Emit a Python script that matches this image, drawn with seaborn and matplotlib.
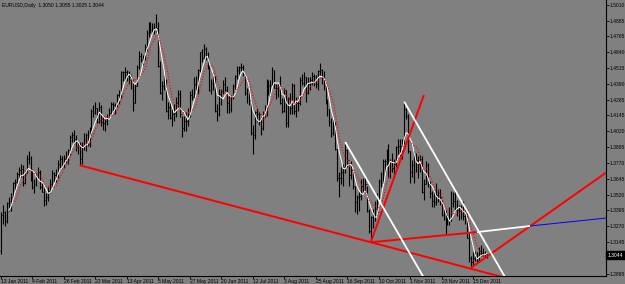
import numpy as np
import pandas as pd
import matplotlib
matplotlib.use("Agg")
import matplotlib.pyplot as plt
import matplotlib.transforms as mtransforms
import seaborn as sns

# ---------------- data (EURUSD daily, 13 Jan 2011 .. 26 Dec 2011) ----------------
symbol_title = "EURUSD,Daily"
first_open = 1.3080

highs = [
    1.3380, 1.3440, 1.3390, 1.3460, 1.3500, 1.3530, 1.3620, 1.3640, 1.3700, 1.3740, 1.3760, 1.3750, 1.3710,
    1.3830, 1.3860, 1.3820, 1.3720, 1.3640, 1.3690, 1.3740, 1.3710, 1.3620, 1.3570, 1.3530, 1.3590, 1.3640, 1.3710, 1.3700, 1.3720, 1.3790, 1.3830, 1.3820, 1.3830,
    1.3860, 1.3880, 1.3990, 1.4010, 1.4030, 1.3990, 1.3950, 1.3930, 1.3930, 1.4000, 1.4000, 1.4030, 1.4050, 1.4190, 1.4220, 1.4250, 1.4200, 1.4250, 1.4220, 1.4130, 1.4120, 1.4150, 1.4200,
    1.4250, 1.4250, 1.4240, 1.4310, 1.4340, 1.4490, 1.4490, 1.4520, 1.4500, 1.4490, 1.4470, 1.4420, 1.4390, 1.4540, 1.4650, 1.4630, 1.4620, 1.4700, 1.4810, 1.4880, 1.4880,
    1.4870, 1.4870, 1.4940, 1.4880, 1.4570, 1.4410, 1.4460, 1.4430, 1.4250, 1.4260, 1.4190, 1.4230, 1.4290, 1.4340, 1.4340, 1.4140, 1.4140, 1.4170, 1.4200, 1.4330, 1.4350, 1.4440,
    1.4450, 1.4510, 1.4640, 1.4660, 1.4700, 1.4680, 1.4640, 1.4540, 1.4430, 1.4480, 1.4450, 1.4230, 1.4350, 1.4350, 1.4420, 1.4440, 1.4370, 1.4300, 1.4300, 1.4390, 1.4460, 1.4530,
    1.4530, 1.4550, 1.4540, 1.4470, 1.4360, 1.4370, 1.4260, 1.4070, 1.4180, 1.4200, 1.4170, 1.4130, 1.4180, 1.4220, 1.4430, 1.4420, 1.4420, 1.4520, 1.4500, 1.4390, 1.4400,
    1.4450, 1.4280, 1.4360, 1.4340, 1.4290, 1.4320, 1.4400, 1.4390, 1.4290, 1.4290, 1.4440, 1.4470, 1.4480, 1.4440, 1.4440, 1.4440, 1.4480, 1.4470, 1.4460, 1.4500, 1.4550, 1.4510, 1.4490,
    1.4400, 1.4270, 1.4190, 1.4120, 1.4110, 1.4090, 1.3880, 1.3700, 1.3740, 1.3760, 1.3920, 1.3880, 1.3770, 1.3780, 1.3720, 1.3590, 1.3520, 1.3540, 1.3640, 1.3650, 1.3650, 1.3590,
    1.3410, 1.3350, 1.3410, 1.3470, 1.3530, 1.3640, 1.3700, 1.3800, 1.3800, 1.3880, 1.3920, 1.3800, 1.3850, 1.3800, 1.3900, 1.3960, 1.3960, 1.3960, 1.4250, 1.4200, 1.4150,
    1.3860, 1.3790, 1.3860, 1.3850, 1.3820, 1.3830, 1.3820, 1.3640, 1.3780, 1.3770, 1.3630, 1.3550, 1.3560, 1.3610, 1.3560, 1.3560, 1.3480, 1.3420, 1.3400, 1.3370, 1.3420, 1.3550,
    1.3540, 1.3550, 1.3480, 1.3440, 1.3440, 1.3470, 1.3420, 1.3380, 1.3220, 1.3040, 1.3070, 1.3080, 1.3070, 1.3110, 1.3120, 1.3100, 1.3080, 1.3055,
]

lows = [
    1.3050, 1.3290, 1.3270, 1.3300, 1.3390, 1.3390, 1.3480, 1.3550, 1.3590, 1.3640, 1.3660, 1.3590, 1.3600,
    1.3690, 1.3760, 1.3630, 1.3560, 1.3530, 1.3590, 1.3640, 1.3560, 1.3540, 1.3430, 1.3440, 1.3470, 1.3530, 1.3580, 1.3620, 1.3620, 1.3650, 1.3720, 1.3730, 1.3730,
    1.3770, 1.3760, 1.3830, 1.3930, 1.3920, 1.3860, 1.3840, 1.3750, 1.3760, 1.3870, 1.3860, 1.3900, 1.3890, 1.3990, 1.4130, 1.4150, 1.4080, 1.4080, 1.4060, 1.4030, 1.4020, 1.4070, 1.4110,
    1.4140, 1.4170, 1.4150, 1.4210, 1.4230, 1.4280, 1.4410, 1.4410, 1.4410, 1.4390, 1.4350, 1.4180, 1.4240, 1.4370, 1.4510, 1.4560, 1.4540, 1.4580, 1.4650, 1.4760, 1.4790,
    1.4780, 1.4780, 1.4800, 1.4520, 1.4310, 1.4260, 1.4340, 1.4170, 1.4110, 1.4110, 1.4060, 1.4100, 1.4130, 1.4200, 1.4130, 1.3970, 1.4020, 1.4020, 1.4060, 1.4130, 1.4260, 1.4260,
    1.4310, 1.4310, 1.4480, 1.4560, 1.4580, 1.4580, 1.4510, 1.4330, 1.4310, 1.4340, 1.4170, 1.4100, 1.4140, 1.4220, 1.4310, 1.4330, 1.4160, 1.4160, 1.4170, 1.4270, 1.4350, 1.4430,
    1.4470, 1.4490, 1.4450, 1.4300, 1.4240, 1.4220, 1.3990, 1.3840, 1.3960, 1.4090, 1.4070, 1.3990, 1.4030, 1.4130, 1.4140, 1.4300, 1.4290, 1.4370, 1.4360, 1.4270, 1.4290,
    1.4230, 1.4160, 1.4170, 1.4050, 1.4050, 1.4150, 1.4150, 1.4150, 1.4130, 1.4180, 1.4220, 1.4380, 1.4370, 1.4250, 1.4310, 1.4340, 1.4380, 1.4370, 1.4360, 1.4340, 1.4460, 1.4390, 1.4340,
    1.4230, 1.4140, 1.4060, 1.3970, 1.3990, 1.3870, 1.3630, 1.3500, 1.3600, 1.3590, 1.3690, 1.3740, 1.3590, 1.3640, 1.3560, 1.3380, 1.3370, 1.3390, 1.3480, 1.3530, 1.3530, 1.3380,
    1.3220, 1.3145, 1.3260, 1.3310, 1.3350, 1.3440, 1.3580, 1.3610, 1.3680, 1.3750, 1.3660, 1.3650, 1.3700, 1.3650, 1.3740, 1.3840, 1.3820, 1.3800, 1.3920, 1.4110, 1.3850,
    1.3610, 1.3660, 1.3610, 1.3700, 1.3650, 1.3700, 1.3530, 1.3480, 1.3600, 1.3580, 1.3490, 1.3420, 1.3420, 1.3440, 1.3460, 1.3440, 1.3350, 1.3320, 1.3210, 1.3280, 1.3280, 1.3310,
    1.3420, 1.3390, 1.3350, 1.3320, 1.3330, 1.3320, 1.3290, 1.3180, 1.2990, 1.2945, 1.2960, 1.3000, 1.2990, 1.2990, 1.3040, 1.3040, 1.3020, 1.3025,
]

closes = [
    1.3360, 1.3385, 1.3310, 1.3450, 1.3470, 1.3500, 1.3610, 1.3620, 1.3680, 1.3710, 1.3720, 1.3610, 1.3690,
    1.3800, 1.3810, 1.3660, 1.3580, 1.3600, 1.3660, 1.3700, 1.3580, 1.3540, 1.3480, 1.3500, 1.3550, 1.3600, 1.3690, 1.3670, 1.3670, 1.3760, 1.3800, 1.3750, 1.3800,
    1.3800, 1.3870, 1.3970, 1.3990, 1.3960, 1.3890, 1.3910, 1.3800, 1.3900, 1.3950, 1.3990, 1.3920, 1.4000, 1.4180, 1.4160, 1.4200, 1.4090, 1.4210, 1.4090, 1.4080, 1.4100, 1.4120, 1.4160,
    1.4230, 1.4220, 1.4220, 1.4300, 1.4300, 1.4480, 1.4480, 1.4480, 1.4450, 1.4440, 1.4430, 1.4240, 1.4370, 1.4520, 1.4610, 1.4580, 1.4600, 1.4680, 1.4790, 1.4820, 1.4810,
    1.4830, 1.4830, 1.4830, 1.4530, 1.4320, 1.4370, 1.4400, 1.4180, 1.4210, 1.4120, 1.4150, 1.4160, 1.4240, 1.4310, 1.4150, 1.4040, 1.4100, 1.4100, 1.4150, 1.4300, 1.4290, 1.4390,
    1.4350, 1.4500, 1.4640, 1.4590, 1.4660, 1.4600, 1.4540, 1.4340, 1.4400, 1.4440, 1.4180, 1.4150, 1.4310, 1.4330, 1.4390, 1.4340, 1.4240, 1.4190, 1.4290, 1.4370, 1.4450, 1.4500,
    1.4520, 1.4520, 1.4470, 1.4320, 1.4340, 1.4260, 1.4000, 1.3990, 1.4170, 1.4150, 1.4150, 1.4040, 1.4160, 1.4200, 1.4390, 1.4370, 1.4380, 1.4500, 1.4360, 1.4360, 1.4390,
    1.4240, 1.4180, 1.4340, 1.4080, 1.4280, 1.4200, 1.4380, 1.4180, 1.4240, 1.4240, 1.4420, 1.4400, 1.4440, 1.4320, 1.4390, 1.4420, 1.4450, 1.4410, 1.4390, 1.4490, 1.4500, 1.4450, 1.4370,
    1.4240, 1.4190, 1.4090, 1.4000, 1.4080, 1.3880, 1.3650, 1.3650, 1.3700, 1.3740, 1.3870, 1.3790, 1.3670, 1.3710, 1.3590, 1.3460, 1.3500, 1.3510, 1.3590, 1.3540, 1.3600, 1.3390,
    1.3230, 1.3340, 1.3350, 1.3410, 1.3380, 1.3630, 1.3610, 1.3780, 1.3780, 1.3870, 1.3700, 1.3780, 1.3730, 1.3760, 1.3890, 1.3900, 1.3900, 1.3900, 1.4190, 1.4140, 1.3860,
    1.3700, 1.3750, 1.3810, 1.3790, 1.3760, 1.3800, 1.3540, 1.3600, 1.3750, 1.3600, 1.3530, 1.3470, 1.3460, 1.3520, 1.3490, 1.3500, 1.3360, 1.3330, 1.3230, 1.3320, 1.3320, 1.3450,
    1.3470, 1.3400, 1.3400, 1.3390, 1.3390, 1.3350, 1.3380, 1.3180, 1.3020, 1.2990, 1.3020, 1.3040, 1.3000, 1.3080, 1.3060, 1.3050, 1.3050, 1.3044,
]

date_tick_labels = ["13 Jan 2011", "4 Feb 2011", "28 Feb 2011", "22 Mar 2011", "13 Apr 2011",
                    "5 May 2011", "27 May 2011", "20 Jun 2011", "12 Jul 2011", "3 Aug 2011",
                    "25 Aug 2011", "16 Sep 2011", "10 Oct 2011", "1 Nov 2011", "23 Nov 2011",
                    "15 Dec 2011"]
bars_per_date_tick = 16

price_ticks = [1.5010, 1.4885, 1.4765, 1.4640, 1.4515, 1.4390, 1.4265, 1.4145, 1.4020,
               1.3895, 1.3770, 1.3645, 1.3520, 1.3395, 1.3270, 1.3145, 1.2895]

# trend lines drawn on the chart: (bar indices, prices)
red_long = ([40, 260], [1.3750, 1.2851])
red_steep = ([188, 215], [1.3145, 1.4302])
red_flat = ([188, 242], [1.3145, 1.3225])
white_short = ([242, 269], [1.3225, 1.3273])
blue_ext = ([269, 308], [1.3273, 1.3336])
red_rise = ([239, 312], [1.2945, 1.3740])
white_chan1 = ([175, 220], [1.3933, 1.2733])
white_chan2 = ([205, 262], [1.4250, 1.2717])

fast_ma_period = 5
slow_ma_period = 8

# ---------------- figure ----------------
bg = "#808080"
sns.set_theme(style="white", rc={"axes.facecolor": bg, "figure.facecolor": bg,
                                 "savefig.facecolor": bg})
plt.rcParams["font.family"] = ["Liberation Sans", "DejaVu Sans"]
FS = 3.6

df = pd.DataFrame({"high": highs, "low": lows, "close": closes})
df["bar"] = np.arange(len(df))
df["open"] = df["close"].shift(1).fillna(first_open)
df["ma_fast"] = df["close"].rolling(fast_ma_period).mean()
df["ma_slow"] = df["close"].rolling(slow_ma_period).mean()

W, H = 625, 284
fig = plt.figure(figsize=(W / 100, H / 100), dpi=100)
ax = fig.add_axes([0, 8 / H, 606 / W, 276 / H])
ax.set_facecolor(bg)

# OHLC bars
ax.vlines(df["bar"], df["low"], df["high"], colors="black", linewidth=0.8, zorder=2)
ax.hlines(df["open"], df["bar"] - 0.45, df["bar"], colors="black", linewidth=0.6, zorder=2)
ax.hlines(df["close"], df["bar"], df["bar"] + 0.45, colors="black", linewidth=0.6, zorder=2)

# moving averages
sns.lineplot(data=df.dropna(subset=["ma_fast"]), x="bar", y="ma_fast", color="white",
             linewidth=0.7, ax=ax, legend=False, zorder=3)
sns.lineplot(data=df.dropna(subset=["ma_slow"]), x="bar", y="ma_slow", color="#ff0000",
             linewidth=0.8, linestyle=(0, (1, 1.6)), ax=ax, legend=False, zorder=3)

# trend lines
for (xs, ys), col, lw in [
    (red_long, "#ff0000", 1.4), (red_steep, "#ff0000", 1.4), (red_flat, "#ff0000", 1.4),
    (red_rise, "#ff0000", 1.4), (white_chan1, "white", 1.3), (white_chan2, "white", 1.3),
    (white_short, "white", 1.3), (blue_ext, "#0000ff", 0.7),
]:
    ax.plot(xs, ys, color=col, linewidth=lw, solid_capstyle="butt", zorder=4)

ax.set_xlim(-0.51, 307.6)
ax.set_ylim(1.2880, 1.5049)
ax.set_xlabel("")
ax.set_ylabel("")

# axes styling
for side in ["left", "top"]:
    ax.spines[side].set_visible(False)
for side in ["right", "bottom"]:
    ax.spines[side].set_visible(True)
    ax.spines[side].set_color("black")
    ax.spines[side].set_linewidth(0.8)

ax.yaxis.tick_right()
ax.set_yticks(price_ticks)
ax.set_yticklabels([f"{p:.4f}" for p in price_ticks])
ax.tick_params(axis="y", which="major", right=True, left=False, labelright=True,
               labelleft=False, length=2.0, width=0.6, pad=0.6, labelsize=FS,
               colors="black", direction="out")

xt = np.arange(len(date_tick_labels)) * bars_per_date_tick
ax.set_xticks(xt)
ax.set_xticklabels(date_tick_labels)
ax.tick_params(axis="x", which="major", bottom=True, length=2.0, width=0.6, pad=0.4,
               labelsize=FS, colors="black", direction="out")
for lbl in ax.get_xticklabels():
    lbl.set_horizontalalignment("left")

# title (current bar OHLC)
last = df.iloc[-1]
title = f"{symbol_title}  {last['open']:.4f} {last['high']:.4f} {last['low']:.4f} {last['close']:.4f}"
ax.text(0.003, 0.99, title, transform=ax.transAxes, ha="left", va="top",
        fontsize=FS, color="black", zorder=5)

# current price box
trans = mtransforms.blended_transform_factory(ax.transAxes, ax.transData)
ax.text(1.003, last["close"], f"{last['close']:.4f}", transform=trans, ha="left",
        va="center", fontsize=FS, color="white", zorder=6, clip_on=False,
        bbox=dict(boxstyle="square,pad=0.3", facecolor="black", edgecolor="black"))

fig.savefig("out.png", dpi=100, facecolor=bg)
